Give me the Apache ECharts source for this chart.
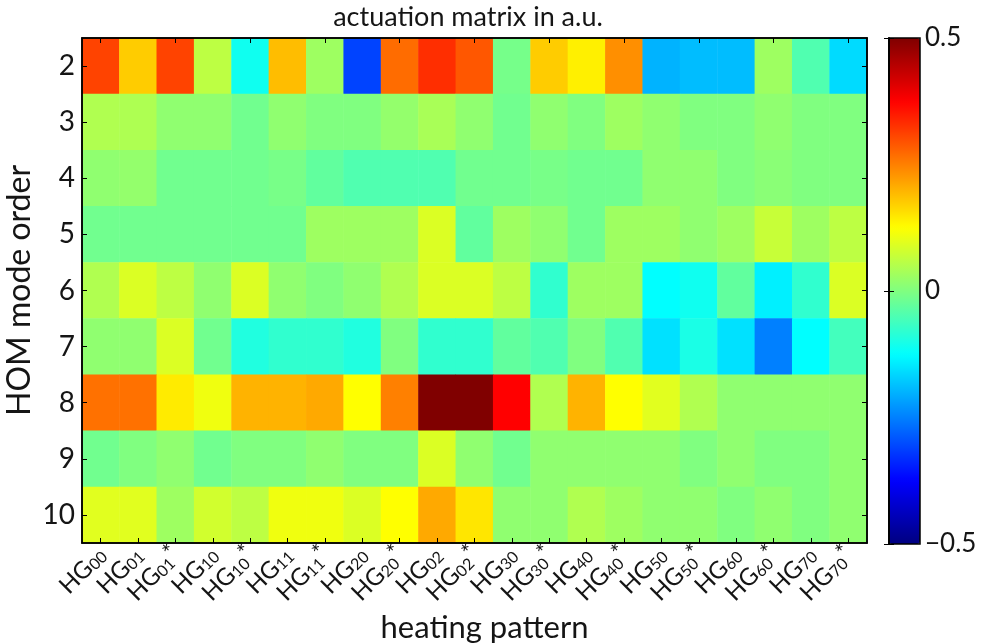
<!DOCTYPE html>
<html>
<head>
<meta charset="utf-8">
<script src="https://cdn.jsdelivr.net/npm/echarts@6/dist/echarts.min.js"></script>
<style>html,body{margin:0;padding:0;background:#fff}#c{width:982px;height:644px}</style>
</head>
<body>
<div id="c"></div>
<script>
// heating patterns (x categories)
var patterns = ['HG00','HG01','HG01*','HG10','HG10*','HG11','HG11*','HG20','HG20*','HG02','HG02*','HG30','HG30*','HG40','HG40*','HG50','HG50*','HG60','HG60*','HG70','HG70*'];
// HOM mode orders (y categories)
var modeOrders = ['2','3','4','5','6','7','8','9','10'];
// actuation values (a.u.), one array per mode order, in pattern order
var mode2  = [0.31, 0.175, 0.31, 0.06, -0.11, 0.19, 0.03, -0.31, 0.27, 0.33, 0.29, -0.01, 0.175, 0.14, 0.235, -0.2, -0.19, -0.19, 0.03, -0.047, -0.16];
var mode3  = [0.047, 0.045, 0.016, 0.016, -0.015, 0.016, 0, 0, 0.02, 0.04, 0.016, -0.015, 0.016, 0, 0.03, 0.016, 0, 0, 0.016, 0, 0];
var mode4  = [0.016, 0.02, -0.015, -0.015, -0.015, -0.008, -0.03, -0.047, -0.047, -0.047, -0.015, -0.015, -0.008, -0.015, -0.015, 0.016, 0.016, 0, 0.01, 0, 0];
var mode5  = [-0.015, -0.015, -0.015, -0.015, -0.015, -0.015, 0.03, 0.03, 0.03, 0.09, -0.03, 0.03, 0.016, -0.015, 0.03, 0.03, 0.016, 0.03, 0.07, 0.03, 0.06];
var mode6  = [0.047, 0.09, 0.06, 0.016, 0.09, 0.016, 0, 0.016, 0.047, 0.09, 0.09, 0.06, -0.078, 0.03, 0.03, -0.125, -0.11, -0.03, -0.14, -0.078, 0.09];
var mode7  = [0.016, 0.016, 0.09, -0.015, -0.094, -0.078, -0.078, -0.094, 0, -0.078, -0.078, -0.03, -0.047, 0, -0.047, -0.155, -0.1, -0.155, -0.25, -0.125, -0.06];
var mode8  = [0.265, 0.265, 0.145, 0.11, 0.2, 0.2, 0.21, 0.125, 0.25, 0.5, 0.5, 0.375, 0.047, 0.2, 0.125, 0.095, 0.047, 0.016, 0.016, 0.016, 0.016];
var mode9  = [-0.015, 0, 0.016, -0.015, 0, 0, 0.016, 0, 0, 0.09, 0.016, -0.015, 0.016, 0.016, 0.016, 0.016, 0, 0.016, 0, 0, 0.016];
var mode10 = [0.095, 0.095, 0.03, 0.08, 0.06, 0.11, 0.11, 0.09, 0.125, 0.21, 0.15, 0.016, 0.016, 0.047, 0.03, 0.016, 0.016, 0, 0.016, 0, 0.016];
var colorbarTicks = [-0.5, 0, 0.5];

var rows = [mode2, mode3, mode4, mode5, mode6, mode7, mode8, mode9, mode10];
var data = [];
rows.forEach(function (row, yi) {
  row.forEach(function (v, xi) { data.push([xi, yi, v]); });
});

var FONT = 'Lato';
var TXT = '#151515';
var jet = ['#000080', '#0000ff', '#0080ff', '#00ffff', '#80ff80', '#ffff00', '#ff8000', '#ff0000', '#800000'];

function xFmt(v) {
  var star = v.indexOf('*') >= 0;
  var base = v.replace('*', '');
  return '{m|' + base.slice(0, 2) + '}{s|' + base.slice(2) + '}' + (star ? '{t|*}' : '');
}

var chart = echarts.init(document.getElementById('c'), null, {renderer: 'canvas'});
chart.setOption({
  animation: false,
  backgroundColor: '#fff',
  title: {
    text: 'actuation matrix in a.u.',
    left: 468, top: 4, textAlign: 'center', padding: 0,
    textStyle: {fontFamily: FONT, fontSize: 27, fontWeight: 'normal', color: TXT}
  },
  grid: [
    {left: 82, top: 38, width: 785, height: 505, show: true, z: 10, borderColor: '#000', borderWidth: 1.5, backgroundColor: 'transparent', outerBoundsMode: 'none', containLabel: false},
    {left: 889, top: 38, width: 31, height: 506, show: true, z: 10, borderColor: '#000', borderWidth: 1.5, backgroundColor: 'transparent', outerBoundsMode: 'none', containLabel: false}
  ],
  xAxis: [
    {type: 'category', data: patterns, gridIndex: 0, position: 'bottom', z: 12,
     name: 'heating pattern', nameLocation: 'middle', nameGap: 63,
     nameTextStyle: {fontFamily: FONT, fontSize: 31, color: TXT, padding: [0, 0, 0, 20]},
     axisLine: {show: true, lineStyle: {color: '#000', width: 1.5}},
     axisTick: {show: true, inside: true, alignWithLabel: true, length: 5, lineStyle: {color: '#000'}},
     splitLine: {show: false},
     axisLabel: {rotate: 45, margin: 7, interval: 0, formatter: xFmt, color: TXT, hideOverlap: false,
       rich: {
         m: {fontFamily: FONT, fontSize: 24, color: TXT, lineHeight: 28, verticalAlign: 'bottom'},
         s: {fontFamily: FONT, fontSize: 16, color: TXT, lineHeight: 17, verticalAlign: 'bottom'},
         t: {fontFamily: FONT, fontSize: 23, color: TXT, lineHeight: 19, verticalAlign: 'top'}
       }}
    },
    {type: 'category', data: patterns, gridIndex: 0, position: 'top', z: 12,
     axisLine: {show: true, lineStyle: {color: '#000', width: 1.5}},
     axisTick: {show: true, inside: true, alignWithLabel: true, length: 5, lineStyle: {color: '#000'}},
     axisLabel: {show: false}, splitLine: {show: false}},
    {type: 'value', gridIndex: 1, show: false, min: 0, max: 1}
  ],
  yAxis: [
    {type: 'category', data: modeOrders, inverse: true, gridIndex: 0, position: 'left', z: 12,
     name: 'HOM mode order', nameLocation: 'middle', nameGap: 46, nameMoveOverlap: false,
     nameTextStyle: {fontFamily: FONT, fontSize: 32, color: TXT},
     axisLine: {show: true, lineStyle: {color: '#000', width: 1.5}},
     axisTick: {show: true, inside: true, alignWithLabel: true, length: 5, lineStyle: {color: '#000'}},
     axisLabel: {fontFamily: FONT, fontSize: 28, color: TXT, margin: 7},
     splitLine: {show: false}},
    {type: 'category', data: modeOrders, inverse: true, gridIndex: 0, position: 'right', z: 12,
     axisLine: {show: true, lineStyle: {color: '#000', width: 1.5}},
     axisTick: {show: true, inside: true, alignWithLabel: true, length: 5, lineStyle: {color: '#000'}},
     axisLabel: {show: false}, splitLine: {show: false}},
    {type: 'value', gridIndex: 1, position: 'right', min: colorbarTicks[0], max: colorbarTicks[2], interval: 0.5, z: 12,
     axisLine: {show: true, lineStyle: {color: '#000', width: 1.5}},
     axisTick: {show: true, inside: true, length: 5, lineStyle: {color: '#000'}},
     axisLabel: {fontFamily: FONT, fontSize: 26, color: TXT, margin: 5,
       formatter: function (v) { return v < 0 ? '\u2212' + String(-v) : String(v); }},
     splitLine: {show: false}},
    {type: 'value', gridIndex: 1, position: 'left', min: colorbarTicks[0], max: colorbarTicks[2], interval: 0.5, z: 12,
     axisLine: {show: true, lineStyle: {color: '#000', width: 1.5}},
     axisTick: {show: true, inside: true, length: 5, lineStyle: {color: '#000'}},
     axisLabel: {show: false}, splitLine: {show: false}}
  ],
  visualMap: {
    type: 'continuous', min: -0.5, max: 0.5, seriesIndex: 0,
    calculable: false, hoverLink: false, realtime: false,
    left: 889, top: 38, itemWidth: 31, itemHeight: 506, padding: 0,
    inRange: {color: jet}, text: null, showLabel: false
  },
  series: [{
    type: 'heatmap', xAxisIndex: 0, yAxisIndex: 0, data: data,
    itemStyle: {borderWidth: 0}, emphasis: {disabled: true}
  }]
});
</script>
</body>
</html>
